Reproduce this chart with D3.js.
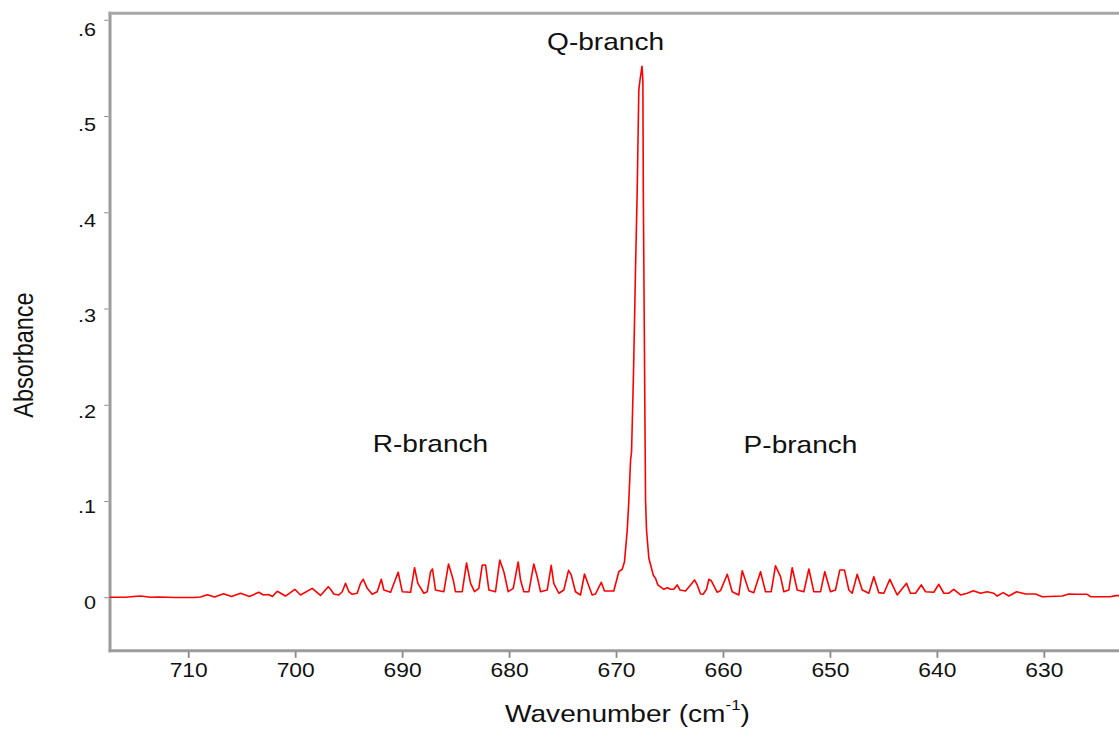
<!DOCTYPE html>
<html>
<head>
<meta charset="utf-8">
<script src="https://cdn.jsdelivr.net/npm/d3@7"></script>
<style>
body{margin:0;background:#fff;}
svg{display:block;font-family:"Liberation Sans",Arial,sans-serif;}
</style>
</head>
<body>
<script>
// spectrum, [wavenumber, absorbance]
var highWing = [
	[717.36,0.0000],[715.86,0.0000],[715.11,0.0008],[714.46,0.0013],[713.53,0.0000],[712.78,0.0003],
	[711.19,-0.0002],[709.50,-0.0002],[708.85,0.0003],[708.22,0.0027],[707.54,0.0003],[706.70,0.0037],
	[705.95,0.0008],[705.11,0.0042],[704.27,0.0008],[703.40,0.0052],[702.96,0.0024],[702.49,0.0029],
	[702.12,0.0008],[701.68,0.0062],[700.90,0.0013],[700.03,0.0083],[699.50,0.0024],[698.41,0.0093],
	[697.63,0.0019],[696.91,0.0110]
];
var rBranch = [
	[696.69,0.0083],[696.39,0.0034],[695.92,0.0024],[695.60,0.0058],[695.29,0.0145],[694.98,0.0058],
	[694.67,0.0031],[694.20,0.0042],[693.89,0.0145],[693.64,0.0187],[693.26,0.0093],[692.80,0.0031],
	[692.33,0.0058],[691.95,0.0187],[691.71,0.0076],[691.08,0.0052],[690.37,0.0260],[689.99,0.0058],
	[689.21,0.0052],[688.84,0.0307],[688.53,0.0145],[687.97,0.0042],[687.65,0.0058],[687.34,0.0266],
	[687.16,0.0294],[686.88,0.0076],[686.10,0.0058],[685.66,0.0346],[685.22,0.0180],[685.01,0.0058],
	[684.38,0.0058],[683.98,0.0356],[683.60,0.0145],[683.23,0.0058],[682.83,0.0093],[682.51,0.0335],
	[682.20,0.0335],[681.89,0.0076],[681.27,0.0058],[680.87,0.0387],[680.49,0.0266],[680.08,0.0058],
	[679.61,0.0093],[679.15,0.0367],[678.93,0.0180],[678.62,0.0058],[678.15,0.0058],[677.69,0.0346],
	[677.37,0.0214],[677.06,0.0058],[676.43,0.0076],[676.06,0.0332],[675.82,0.0145],[675.35,0.0042],
	[674.88,0.0076],[674.44,0.0280],[674.19,0.0232],[673.79,0.0058],[673.32,0.0024],[672.95,0.0242],
	[672.64,0.0145],[672.23,0.0024],[671.92,0.0034],[671.38,0.0156],[671.08,0.0065],[670.21,0.0065],
	[669.74,0.0266],[669.42,0.0291],[669.21,0.0370]
];
var qBranch = [
	[668.95,0.0699],[668.80,0.1010],[668.64,0.1426],[668.55,0.1509],[668.36,0.2360],[668.18,0.3399],
	[668.02,0.4230],[667.87,0.5268],[667.76,0.5372],[667.57,0.5517],[667.49,0.5372],[667.45,0.4230],
	[667.31,0.2050],[667.24,0.1011],[667.15,0.0699],[666.93,0.0405]
];
var pBranch = [
	[666.52,0.0232],[666.31,0.0197],[666.09,0.0128],[665.53,0.0083],[665.21,0.0100],[664.90,0.0083],
	[664.60,0.0083],[664.28,0.0128],[664.03,0.0076],[663.50,0.0065],[663.03,0.0128],[662.66,0.0180],
	[662.41,0.0128],[662.10,0.0034],[661.85,0.0031],[661.54,0.0083],[661.32,0.0187],[661.10,0.0172],
	[660.54,0.0052],[660.23,0.0069],[659.60,0.0239],[659.14,0.0058],[658.52,0.0024],[658.20,0.0276],
	[657.58,0.0069],[657.12,0.0048],[656.49,0.0266],[656.02,0.0058],[655.49,0.0058],[655.09,0.0328],
	[654.62,0.0214],[654.31,0.0058],[653.84,0.0076],[653.53,0.0307],[653.06,0.0076],[652.44,0.0058],
	[651.97,0.0294],[651.51,0.0058],[650.88,0.0058],[650.48,0.0266],[649.95,0.0058],[649.48,0.0076],
	[649.08,0.0283],[648.64,0.0283],[648.23,0.0076],[647.92,0.0042],[647.45,0.0239],[646.98,0.0076],
	[646.36,0.0042],[645.90,0.0214],[645.43,0.0048],[644.96,0.0042],[644.40,0.0187],[643.71,0.0024],
	[642.84,0.0145],[642.47,0.0042],[642.00,0.0042],[641.46,0.0128],[641.06,0.0058],[640.29,0.0052],
	[639.82,0.0135],[639.35,0.0042],[638.88,0.0042],[638.42,0.0083],[637.79,0.0024],[637.16,0.0042],
	[636.60,0.0069]
];
var lowWing = [
	[635.92,0.0042],[635.29,0.0058],[634.68,0.0042],[634.36,0.0013],[633.80,0.0048],[633.27,0.0013],
	[632.55,0.0058],[631.71,0.0034],[630.78,0.0034],[630.15,0.0006],[628.28,0.0013],[627.66,0.0034],
	[626.94,0.0031],[625.94,0.0031],[625.64,0.0006],[623.77,0.0006],[623.30,0.0017],[621.90,0.0017]
];

var xTicks = [710, 700, 690, 680, 670, 660, 650, 640, 630];
var yTicks = [0, 0.1, 0.2, 0.3, 0.4, 0.5, 0.6];
var yTickLabels = ["0", ".1", ".2", ".3", ".4", ".5", ".6"];

var branchNames = ["R-branch", "Q-branch", "P-branch"];
var branchSpots = [[687.35, 0.151], [670.98, 0.569], [652.75, 0.150]];

var xTitle = "Wavenumber (cm";
var xTitleSup = "-1";
var yTitle = "Absorbance";

var config = {
	width: 1119,
	height: 731,
	left: 109.5,
	right: 1150.8,
	top: 13,
	bottom: 651,
	xDomain: [717.36, 620],
	yDomain: [-0.0558, 0.607],
	stretch: 1.17,
	frameColor: "#9c9c9c",
	tickColor: "#888"
};

function addSvg(config){
	return d3.select("body")
	.append("svg")
	.attr("width", config.width)
	.attr("height", config.height);
}

function drawFrame(svg, config){
	var g = svg.append("g")
		.attr("stroke", config.frameColor)
		.attr("stroke-width", 3);
	g.append("line")
		.attr("x1", 110).attr("x2", 110)
		.attr("y1", 11.7).attr("y2", 652.3);
	g.append("line")
		.attr("x1", 108.5).attr("x2", config.width)
		.attr("y1", 13.3).attr("y2", 13.3)
		.attr("stroke", "#a6a6a6");
	g.append("line")
		.attr("x1", 108.5).attr("x2", config.width)
		.attr("y1", 650.7).attr("y2", 650.7);
}

function drawAxes(svg, x, y, config){
	var s = config.stretch;

	var xAxis = svg.append("g")
		.attr("transform", "translate(0,651.8)")
		.call(d3.axisBottom(x).tickValues(xTicks).tickSize(6).tickFormat(d3.format("d")));
	xAxis.select(".domain").remove();
	xAxis.selectAll(".tick line")
		.attr("stroke", config.tickColor)
		.attr("stroke-width", 1.8);
	xAxis.selectAll(".tick text")
		.attr("y", 25.5)
		.attr("dy", 0)
		.attr("fill", "#111")
		.attr("font-size", 19.5)
		.attr("transform", "scale(" + s + ",1)");

	var yAxis = svg.append("g")
		.attr("transform", "translate(108.3,0)")
		.call(d3.axisLeft(y).tickValues(yTicks).tickSize(4)
			.tickFormat(function(d, i){ return yTickLabels[i]; }));
	yAxis.select(".domain").remove();
	yAxis.selectAll(".tick line")
		.attr("stroke", config.tickColor)
		.attr("stroke-width", 1);
	yAxis.selectAll(".tick text")
		.attr("x", -10.5)
		.attr("dy", 0)
		.attr("y", function(d){ return 11.2 + 7 * d; })
		.attr("fill", "#111")
		.attr("font-size", 18.5)
		.attr("transform", "scale(" + s + ",1)");
}

function drawSpectrum(svg, x, y){
	var spectrum = highWing.concat(rBranch, qBranch, pBranch, lowWing);
	var line = d3.line()
		.x(function(d){ return x(d[0]); })
		.y(function(d){ return y(d[1]); });

	svg.append("path")
		.datum(spectrum)
		.attr("d", line)
		.attr("fill", "none")
		.attr("stroke", "#ff0000")
		.attr("stroke-width", 1.6)
		.attr("stroke-linejoin", "round");
}

function drawTexts(svg, x, y, config){
	var s = config.stretch;

	branchNames.forEach(function(name, i){
		svg.append("text")
			.attr("transform", "translate(" + x(branchSpots[i][0]) + "," + y(branchSpots[i][1]) + ") scale(" + s + ",1)")
			.attr("text-anchor", "middle")
			.attr("font-size", 24)
			.attr("fill", "#111")
			.text(name);
	});

	var t = svg.append("text")
		.attr("transform", "translate(627.5,722) scale(" + s + ",1)")
		.attr("text-anchor", "middle")
		.attr("font-size", 24)
		.attr("fill", "#111");
	t.append("tspan").text(xTitle);
	t.append("tspan").attr("dy", -12).attr("font-size", 14.5).text(xTitleSup);
	t.append("tspan").attr("dy", 12).text(")");

	svg.append("text")
		.attr("transform", "translate(33,355) scale(" + s + ",1) rotate(-90)")
		.attr("text-anchor", "middle")
		.attr("font-size", 23.5)
		.attr("fill", "#111")
		.text(yTitle);
}

function plotGraph(){
	var svg = addSvg(config);
	var x = d3.scaleLinear().domain(config.xDomain).range([config.left, config.right]);
	var y = d3.scaleLinear().domain(config.yDomain).range([config.bottom, config.top]);

	drawFrame(svg, config);
	drawSpectrum(svg, x, y);
	drawAxes(svg, x, y, config);
	drawTexts(svg, x, y, config);
}

plotGraph();
</script>
</body>
</html>
